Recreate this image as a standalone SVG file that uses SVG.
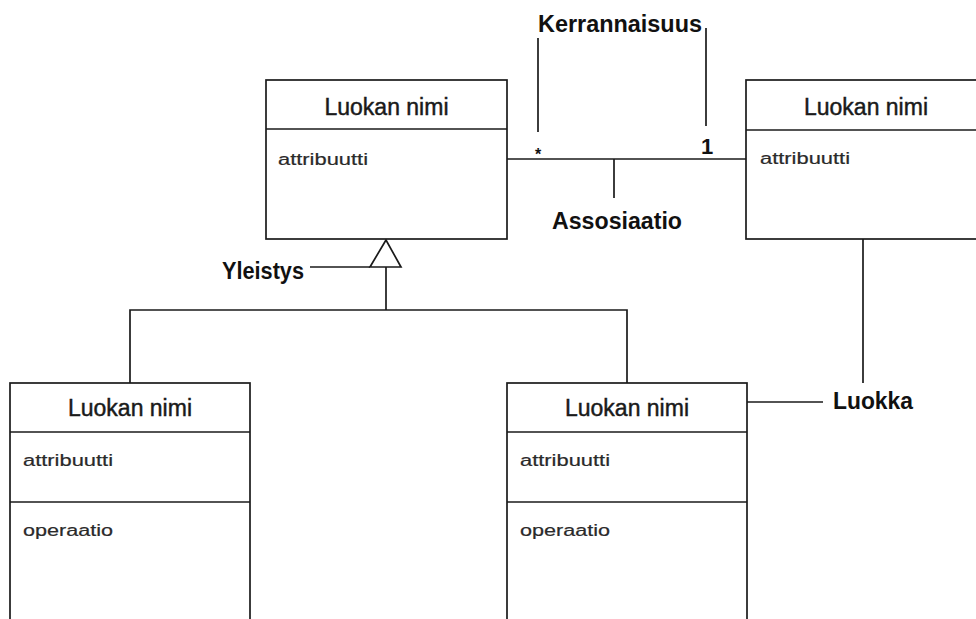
<svg xmlns="http://www.w3.org/2000/svg" width="976" height="619" viewBox="0 0 976 619">
  <style>
    .box { fill: #ffffff; stroke: #1a1a1a; stroke-width: 1.7; }
    .div { stroke: #1a1a1a; stroke-width: 1.7; }
    .ln { fill: none; stroke: #1a1a1a; stroke-width: 1.7; }
    .title { font-family: "Liberation Sans", Arial, sans-serif; font-size: 23px; fill: #1a1a1a; stroke: #1a1a1a; stroke-width: 0.45; text-anchor: middle; }
    .small { font-family: "Liberation Sans", Arial, sans-serif; font-size: 16px; fill: #2a2a2a; stroke: #2a2a2a; stroke-width: 0.2; }
    .note { font-family: "Liberation Sans", Arial, sans-serif; font-size: 23px; font-weight: bold; fill: #111111; }
  </style>

  <!-- connectors -->
  <g id="connectors">
    <!-- association -->
    <line class="ln" x1="507" y1="159" x2="746" y2="159"/>
    <!-- generalization -->
    <polyline class="ln" points="130,383 130,310 627,310 627,383"/>
    <line class="ln" x1="386" y1="310" x2="386" y2="267"/>
    <polygon class="ln" points="386,240 370,267 401,267" style="fill:#ffffff"/>
    <!-- annotation leaders -->
    <line class="ln" x1="538" y1="38" x2="538" y2="132"/>
    <line class="ln" x1="706" y1="28" x2="706" y2="126"/>
    <line class="ln" x1="614" y1="159" x2="614" y2="198"/>
    <line class="ln" x1="310" y1="267" x2="370" y2="267"/>
    <line class="ln" x1="747" y1="402" x2="823" y2="402"/>
    <line class="ln" x1="863" y1="239" x2="863" y2="383"/>
  </g>

  <!-- classes -->
  <g id="class-top-left">
    <rect class="box" x="266" y="80" width="241" height="159"/>
    <line class="div" x1="266" y1="129" x2="507" y2="129"/>
    <text class="title" x="386.5" y="115">Luokan nimi</text>
    <text class="small" x="278" y="165" textLength="90" lengthAdjust="spacingAndGlyphs">attribuutti</text>
  </g>

  <g id="class-top-right">
    <rect class="box" x="746" y="80" width="240" height="159"/>
    <line class="div" x1="746" y1="130" x2="986" y2="130"/>
    <text class="title" x="866" y="115">Luokan nimi</text>
    <text class="small" x="760" y="164" textLength="90" lengthAdjust="spacingAndGlyphs">attribuutti</text>
  </g>

  <g id="class-bottom-left">
    <rect class="box" x="10" y="383" width="240" height="250"/>
    <line class="div" x1="10" y1="432" x2="250" y2="432"/>
    <line class="div" x1="10" y1="502" x2="250" y2="502"/>
    <text class="title" x="130" y="416">Luokan nimi</text>
    <text class="small" x="23" y="466" textLength="90" lengthAdjust="spacingAndGlyphs">attribuutti</text>
    <text class="small" x="23" y="536" textLength="90" lengthAdjust="spacingAndGlyphs">operaatio</text>
  </g>

  <g id="class-bottom-right">
    <rect class="box" x="507" y="383" width="240" height="250"/>
    <line class="div" x1="507" y1="432" x2="747" y2="432"/>
    <line class="div" x1="507" y1="502" x2="747" y2="502"/>
    <text class="title" x="627" y="416">Luokan nimi</text>
    <text class="small" x="520" y="466" textLength="90" lengthAdjust="spacingAndGlyphs">attribuutti</text>
    <text class="small" x="520" y="536" textLength="90" lengthAdjust="spacingAndGlyphs">operaatio</text>
  </g>

  <!-- annotations -->
  <g id="labels">
    <text class="note" x="538" y="32" textLength="164" lengthAdjust="spacingAndGlyphs">Kerrannaisuus</text>
    <text class="note" x="552" y="229" textLength="130" lengthAdjust="spacingAndGlyphs">Assosiaatio</text>
    <text class="note" x="222" y="279" textLength="82" lengthAdjust="spacingAndGlyphs">Yleistys</text>
    <text class="note" x="833" y="409" textLength="80" lengthAdjust="spacingAndGlyphs">Luokka</text>
    <text class="note" x="538" y="160" text-anchor="middle" style="font-size:16px">*</text>
    <text class="note" x="707" y="154" text-anchor="middle" style="font-size:22px">1</text>
  </g>
</svg>
